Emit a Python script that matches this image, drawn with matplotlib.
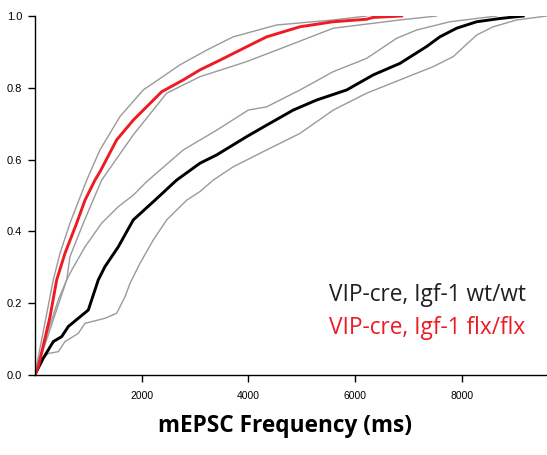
import matplotlib
matplotlib.use("Agg")
import matplotlib.pyplot as plt

# cumulative curves (x in ms, y = cumulative fraction)
wt_x = [0, 159, 253, 346, 504, 627, 814, 1002, 1189, 1314, 1563, 1844, 2250, 2656,
        3093, 3405, 3967, 4341, 4839, 5277, 5839, 6337, 6836, 7336, 7584, 7898,
        8272, 8708, 9145]
wt_y = [0, 0.047, 0.070, 0.093, 0.107, 0.135, 0.158, 0.181, 0.265, 0.302, 0.357,
        0.432, 0.487, 0.543, 0.590, 0.613, 0.664, 0.696, 0.738, 0.766, 0.794,
        0.836, 0.868, 0.915, 0.942, 0.966, 0.984, 0.993, 1.0]

wt_hi_x = [0, 66, 253, 440, 597, 691, 940, 1252, 1563, 1844, 2090, 2780, 3405,
           3997, 4341, 4965, 5588, 6213, 6775, 7149, 7771, 8647]
wt_hi_y = [0, 0.033, 0.125, 0.209, 0.265, 0.292, 0.357, 0.423, 0.469, 0.501, 0.538,
           0.627, 0.682, 0.738, 0.747, 0.794, 0.845, 0.882, 0.938, 0.961, 0.984, 1.0]

wt_lo_x = [0, 129, 253, 440, 565, 814, 940, 1314, 1533, 1689, 1782, 1969, 2218,
           2469, 2844, 3093, 3341, 3716, 4341, 4965, 5588, 6213, 6836, 7460, 7835,
           8272, 8583, 9021, 9583]
wt_lo_y = [0, 0.042, 0.060, 0.065, 0.093, 0.116, 0.144, 0.158, 0.172, 0.218, 0.255,
           0.311, 0.376, 0.432, 0.487, 0.511, 0.543, 0.580, 0.627, 0.673, 0.738,
           0.785, 0.822, 0.859, 0.887, 0.947, 0.970, 0.989, 1.0]

flx_x = [0, 66, 285, 410, 565, 784, 940, 1127, 1220, 1533, 1844, 2376, 2780, 3093,
         3467, 4029, 4341, 4964, 5582, 6213, 6331, 6868]
flx_y = [0, 0.023, 0.162, 0.265, 0.339, 0.423, 0.487, 0.543, 0.566, 0.655, 0.710,
         0.789, 0.822, 0.850, 0.877, 0.919, 0.942, 0.970, 0.984, 0.991, 0.996, 1.0]

flx_hi_x = [0, 346, 472, 659, 972, 1220, 1595, 2031, 2718, 3218, 3592, 3716, 4528,
            5588, 6213]
flx_hi_y = [0, 0.265, 0.339, 0.423, 0.543, 0.627, 0.720, 0.794, 0.864, 0.905, 0.933,
            0.942, 0.975, 0.989, 1.0]

flx_lo_x = [0, 597, 659, 908, 1252, 1844, 2469, 3093, 3967, 4528, 5588, 6836, 7523]
flx_lo_y = [0, 0.265, 0.330, 0.423, 0.543, 0.669, 0.785, 0.831, 0.873, 0.905, 0.966,
            0.989, 1.0]

x_ticks = [2000, 4000, 6000, 8000]
y_ticks = [0.0, 0.2, 0.4, 0.6, 0.8, 1.0]

gray = "#9a9a9a"
red = "#ed1c24"

fig = plt.figure(figsize=(5.47, 4.55), dpi=100)
ax = fig.add_axes([0.0636, 0.1758, 0.9364, 0.789])

for xs, ys in [(wt_hi_x, wt_hi_y), (wt_lo_x, wt_lo_y),
               (flx_hi_x, flx_hi_y), (flx_lo_x, flx_lo_y)]:
    ax.plot(xs, ys, color=gray, lw=1.0)
ax.plot(wt_x, wt_y, color="black", lw=2.1)
ax.plot(flx_x, flx_y, color=red, lw=2.1)

ax.set_xlim(0, 9590)
ax.set_ylim(0, 1.0)
ax.set_xticks(x_ticks)
ax.set_yticks(y_ticks)
ax.set_xticklabels([str(t) for t in x_ticks], family="Liberation Sans", fontsize=7.5)
ax.set_yticklabels(["%.1f" % t for t in y_ticks], family="Liberation Sans", fontsize=8)
ax.tick_params(axis="x", length=5, width=1, pad=6.5)
ax.tick_params(axis="y", length=5, width=1, pad=4)
for s in ["top", "right"]:
    ax.spines[s].set_visible(False)
for s in ["left", "bottom"]:
    ax.spines[s].set_linewidth(1.0)
ax.patch.set_visible(False)

fig.text(0.602, 0.3385, "VIP-cre, Igf-1 wt/wt", color="#231f20",
         family="Open Sans", fontsize=16.3, va="baseline", ha="left")
fig.text(0.602, 0.2653, "VIP-cre, Igf-1 flx/flx", color=red,
         family="Open Sans", fontsize=16.3, va="baseline", ha="left")
fig.text(285 / 547, 0.0505, "mEPSC Frequency (ms)", family="Open Sans",
         fontweight="bold", fontsize=16.3, va="baseline", ha="center")

fig.savefig("out.png", dpi=100)
